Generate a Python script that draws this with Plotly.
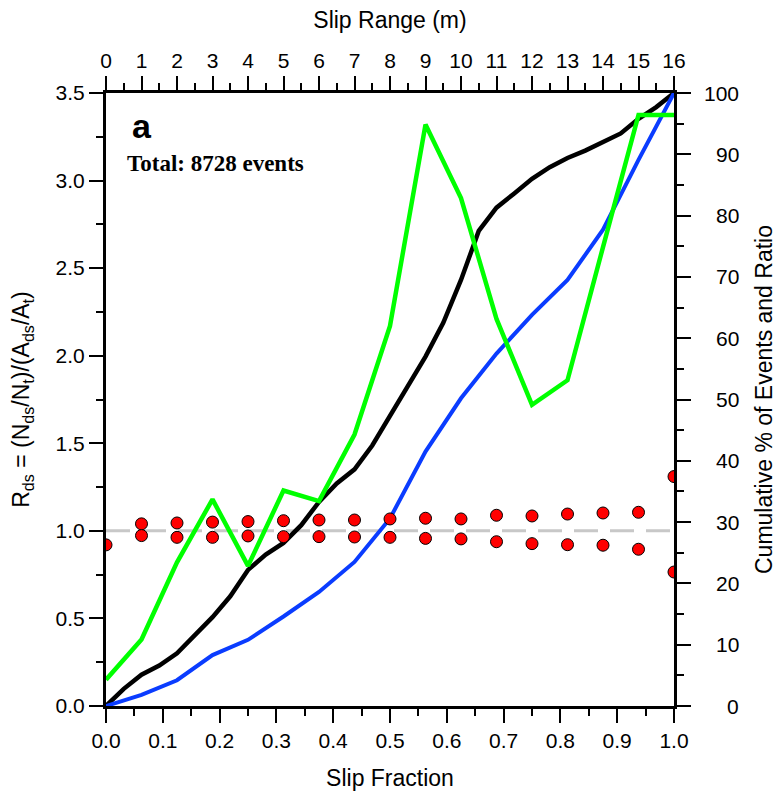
import plotly.graph_objects as go

# Slip range bins (m) and the matching slip fraction
slip_range = list(range(17))

# Ratio R_ds per slip-range bin (left axis)
ratio = [0.15, 0.38, 0.82, 1.18, 0.80, 1.23, 1.17, 1.55, 2.17, 3.32, 2.90,
         2.21, 1.72, 1.86, 2.62, 3.375, 3.375]

# Bounds on the ratio (red dots, left axis)
bound_upper = [0.92, 1.04, 1.045, 1.05, 1.053, 1.058, 1.062, 1.062, 1.068,
               1.072, 1.068, 1.089, 1.085, 1.096, 1.102, 1.106, 1.31]
bound_lower = [None, 0.973, 0.963, 0.963, 0.971, 0.967, 0.967, 0.965, 0.963,
               0.957, 0.954, 0.938, 0.927, 0.921, 0.918, 0.895, 0.765]

# Cumulative % of events (black, right axis) on a finer slip-fraction grid
events_frac = [i / 32 for i in range(33)]
events_cum = [0, 2.8, 5.1, 6.6, 8.6, 11.5, 14.5, 17.9, 22.2, 24.7, 26.6, 29.5,
              33.3, 36.3, 38.6, 42.5, 47.3, 52.3, 57.0, 62.5, 69.5, 77.5, 81.3,
              83.6, 86.0, 87.9, 89.4, 90.6, 91.9, 93.4, 95.8, 97.7, 100]

# Cumulative % of area (blue, right axis)
area_frac = [i / 16 for i in range(17)]
area_cum = [0, 1.8, 4.2, 8.3, 10.8, 14.6, 18.6, 23.5, 30.6, 41.5, 50.2, 57.5,
            63.8, 69.5, 77.7, 89.1, 100]

frac_ticks = [i / 10 for i in range(11)]
pct_ticks = list(range(0, 101, 10))

FONT = "Liberation Sans"
TICK_FONT = dict(family=FONT, size=21, color="black")
TITLE_FONT = dict(family=FONT, size=23, color="black")

fig = go.Figure()

fig.add_trace(go.Scatter(x=events_frac, y=events_cum, mode="lines",
                         line=dict(color="black", width=4.5),
                         xaxis="x", yaxis="y", name="events"))
fig.add_trace(go.Scatter(x=area_frac, y=area_cum, mode="lines",
                         line=dict(color="#0a3cff", width=4),
                         xaxis="x", yaxis="y", name="area"))
fig.add_trace(go.Scatter(x=slip_range, y=ratio, mode="lines",
                         line=dict(color="#00ff00", width=4.5),
                         xaxis="x2", yaxis="y2", name="ratio"))
dot_style = dict(size=12, color="#ff0000", line=dict(color="black", width=1))
fig.add_trace(go.Scatter(x=slip_range, y=bound_upper, mode="markers",
                         marker=dot_style, xaxis="x2", yaxis="y2", name="upper"))
fig.add_trace(go.Scatter(x=slip_range, y=bound_lower, mode="markers",
                         marker=dot_style, xaxis="x2", yaxis="y2", name="lower"))

# Reference line at R_ds = 1
fig.add_shape(type="line", xref="x2", yref="y2", x0=0, x1=16, y0=1, y1=1,
              line=dict(color="#c8c8c8", width=3, dash="24px,12px"),
              layer="below")

axis_common = dict(showline=True, linewidth=3, linecolor="black",
                   showgrid=False, zeroline=False, ticks="outside",
                   ticklen=14, tickwidth=1.5, tickcolor="black",
                   tickfont=TICK_FONT, automargin=False)

fig.update_layout(
    width=777, height=794,
    margin=dict(l=106, r=103, t=93, b=88, autoexpand=False),
    paper_bgcolor="white", plot_bgcolor="white",
    showlegend=False,
    xaxis=dict(range=[0, 1], tickvals=frac_ticks, tickformat=".1f",
               minor=dict(dtick=0.05, ticklen=7, tickwidth=1.5,
                          ticks="outside", tickcolor="black"),
               title=dict(text="Slip Fraction", font=TITLE_FONT, standoff=19),
               anchor="y", **axis_common),
    xaxis2=dict(range=[0, 16], dtick=1, overlaying="x", side="top",
                anchor="y2",
                minor=dict(dtick=0.5, ticklen=7, tickwidth=1.5,
                           ticks="outside", tickcolor="black"),
                title=dict(text="Slip Range (m)", font=TITLE_FONT, standoff=14),
                **axis_common),
    yaxis=dict(range=[0, 100], tickvals=pct_ticks, side="right",
               showticklabels=False, anchor="x",
               minor=dict(dtick=5, ticklen=7, tickwidth=1.5,
                          ticks="outside", tickcolor="black"),
               title=dict(text="Cumulative % of Events and Ratio",
                          font=TITLE_FONT, standoff=68),
               **axis_common),
    yaxis2=dict(range=[0, 3.5], dtick=0.5, tickformat=".1f",
                overlaying="y", side="left", anchor="x2",
                minor=dict(dtick=0.25, ticklen=7, tickwidth=1.5,
                           ticks="outside", tickcolor="black"),
                title=dict(text="R<sub>ds</sub> = (N<sub>ds</sub>/N<sub>t</sub>)/(A<sub>ds</sub>/A<sub>t</sub>)",
                           font=TITLE_FONT, standoff=20),
                **axis_common),
)

# Right-axis labels, right-aligned
for v in pct_ticks:
    fig.add_annotation(x=(741 - 106) / 568, xref="paper", y=v, yref="y",
                       text=str(v), showarrow=False, xanchor="right",
                       yanchor="middle", font=TICK_FONT)

fig.add_annotation(x=0.0628, y=0.946, xref="paper", yref="paper", text="<b>a</b>",
                   showarrow=False, xanchor="center", yanchor="middle",
                   font=dict(family=FONT, size=34, color="black"))
fig.add_annotation(x=0.0335, y=0.885, xref="paper", yref="paper",
                   text="<b>Total: 8728 events</b>", showarrow=False,
                   xanchor="left", yanchor="middle",
                   font=dict(family="Liberation Serif", size=23, color="black"))

fig.write_html("out.html")
